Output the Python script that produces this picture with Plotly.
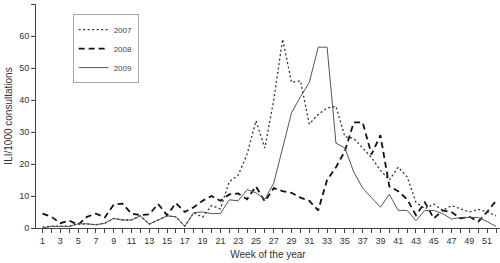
import plotly.graph_objects as go

weeks = list(range(1, 53))

ili_2007 = [0.3, 0.6, 0.6, 0.6, 1.3, 1.3, 1.0, 1.5, 3.0, 2.5, 2.5, 3.8, 1.2, 2.5, 3.8, 3.5, 0.6,
            4.8, 3.4, 7.0, 6.0, 14.5, 16.5, 23.0, 33.5, 25.0, 40.0, 59.0, 45.5, 46.0, 32.5, 35.5,
            37.5, 38.0, 28.5, 28.0, 25.0, 22.0, 18.0, 15.0, 19.0, 16.0, 8.0, 6.0, 7.5, 5.5, 7.0,
            6.0, 5.0, 5.8, 5.0, 3.8]

ili_2008 = [4.5, 3.5, 1.5, 2.3, 1.0, 3.5, 4.5, 3.3, 7.3, 7.6, 4.5, 4.0, 4.3, 7.5, 4.0, 7.8, 5.0,
            6.5, 8.5, 10.0, 8.5, 10.5, 10.8, 9.0, 13.0, 8.3, 12.5, 11.5, 11.0, 9.5, 8.5, 5.5,
            15.0, 19.0, 24.0, 33.0, 33.0, 23.0, 29.0, 13.0, 11.5, 9.0, 4.0, 8.0, 3.0, 5.5, 5.0,
            3.0, 3.5, 2.0, 5.0, 8.5]

ili_2009 = [0.0, 0.5, 0.5, 0.5, 1.3, 1.3, 1.0, 1.5, 3.0, 2.5, 2.5, 3.8, 1.2, 2.5, 3.8, 3.5, 0.5,
            4.8, 5.0, 4.5, 4.5, 8.8, 8.5, 12.0, 11.0, 9.0, 14.0, 25.0, 36.0, 41.0, 45.5, 56.5,
            56.5, 26.5, 25.0, 17.5, 12.5, 9.5, 6.5, 10.5, 5.5, 5.5, 2.3, 5.5, 5.5, 4.5, 2.8,
            3.3, 3.3, 3.3, 2.0, 0.5]

x_labels = [str(w) if w % 2 == 1 else "" for w in weeks]
y_ticks = [0, 10, 20, 30, 40, 50, 60, 70]

fig = go.Figure()
fig.add_trace(go.Scatter(x=weeks, y=ili_2007, name="2007", mode="lines",
                         line=dict(color="#333333", width=1.3, dash="2px,2.5px")))
fig.add_trace(go.Scatter(x=weeks, y=ili_2008, name="2008", mode="lines",
                         line=dict(color="#111111", width=1.8, dash="6px,4px")))
fig.add_trace(go.Scatter(x=weeks, y=ili_2009, name="2009", mode="lines",
                         line=dict(color="#555555", width=1.0)))

fig.update_layout(
    width=500, height=263,
    margin=dict(l=36, r=0, t=4, b=35, autoexpand=False),
    paper_bgcolor="white", plot_bgcolor="white",
    font=dict(family="Liberation Sans, Arial, sans-serif", size=9, color="#333333"),
    showlegend=True,
    legend=dict(x=0.079, y=0.955, xanchor="left", yanchor="top",
                bordercolor="#aaaaaa", borderwidth=1, bgcolor="white",
                font=dict(size=8, color="#444444"), itemwidth=30),
    xaxis=dict(range=[0.26, 52.45], tickmode="array", tickvals=weeks, ticktext=x_labels,
               ticks="outside", ticklen=4, tickcolor="#444444", showline=True,
               linecolor="#444444", linewidth=1, showgrid=False, zeroline=False,
               automargin=False,
               title=dict(text="Week of the year", font=dict(size=10), standoff=6)),
    yaxis=dict(range=[0, 70], tickmode="array", tickvals=y_ticks,
               ticks="outside", ticklen=4, tickcolor="#444444", showline=True,
               linecolor="#444444", linewidth=1, showgrid=False, zeroline=False,
               automargin=False,
               title=dict(text="ILI/1000 consultations", font=dict(size=10), standoff=4)),
)

fig.write_html("out.html", config={"displayModeBar": False},
               post_script="document.body.style.margin='0';")
